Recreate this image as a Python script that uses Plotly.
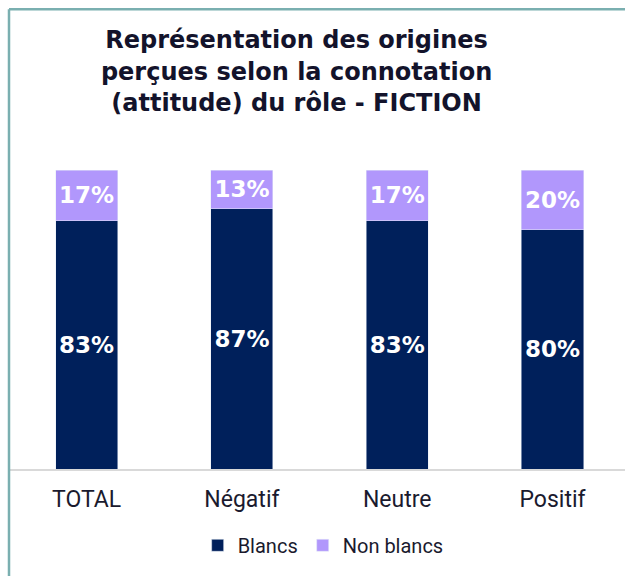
import plotly.graph_objects as go

NAVY, LILAC, TEAL, AXIS_GREY, INK = '#00205B', '#B197FC', '#7AAFB0', '#D9D9D9', '#1A1A2E'

categories = ['TOTAL', 'Négatif', 'Neutre', 'Positif']
blancs = [83, 87, 83, 80]
non_blancs = [17, 13, 17, 20]

LABEL_FONT = dict(color='white', size=23, family='DejaVu Sans', weight='bold')

fig = go.Figure()
fig.add_trace(go.Bar(x=categories, y=blancs, name='Blancs', marker_color=NAVY,
                     text=[f'{v}%' for v in blancs], textposition='inside',
                     insidetextanchor='middle', constraintext='none', textfont=LABEL_FONT))
fig.add_trace(go.Bar(x=categories, y=non_blancs, name='Non blancs', marker_color=LILAC,
                     text=[f'{v}%' for v in non_blancs], textposition='inside',
                     insidetextanchor='middle', constraintext='none', textfont=LABEL_FONT))

fig.update_layout(
    barmode='stack', bargap=0.6, width=625, height=576,
    paper_bgcolor='white', plot_bgcolor='white',
    margin=dict(t=170, b=107, l=9, r=0),
    font=dict(family='Roboto', color=INK),
    title=dict(text='Représentation des origines<br>perçues selon la connotation<br>(attitude) du rôle - FICTION',
               x=0.4745, xanchor='center', y=0.916, yanchor='top',
               font=dict(size=24, family='DejaVu Sans', weight='bold', color='#13132B')),
    legend=dict(orientation='h', x=0.51, xanchor='center', y=-0.19, yanchor='top',
                font=dict(size=20, color=INK), itemwidth=30, traceorder='normal'),
    showlegend=True,
)
fig.update_xaxes(range=[-0.5, 3.467], showline=True, linecolor=AXIS_GREY, linewidth=2,
                 tickfont=dict(size=23, color=INK), ticks='outside', ticklen=8,
                 tickcolor='rgba(0,0,0,0)', showgrid=False)
fig.update_yaxes(range=[0, 100], visible=False, showgrid=False)

# frame lines on top and left
fig.add_shape(type='line', xref='paper', yref='paper', x0=0, x1=1.02, y0=1.538, y1=1.538,
              line=dict(color=TEAL, width=2.5))
fig.add_shape(type='line', xref='paper', yref='paper', x0=0, x1=0, y0=1.538, y1=-0.4,
              line=dict(color=TEAL, width=2.5))

fig.write_html('out.html', config={'displayModeBar': False},
               post_script="document.body.style.margin='0';")
